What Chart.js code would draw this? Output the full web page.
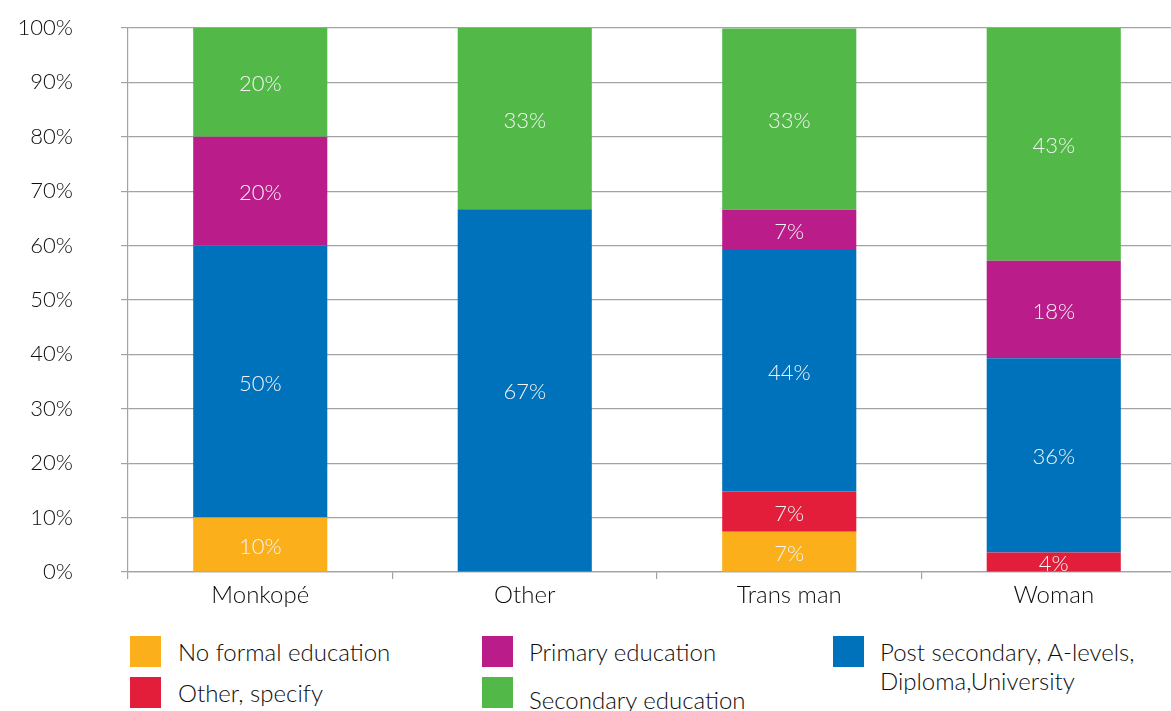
<!DOCTYPE html>
<html>
<head>
<meta charset="utf-8">
<script src="https://cdn.jsdelivr.net/npm/chart.js@4.4.1/dist/chart.umd.min.js"></script>
<style>
  html, body { margin: 0; padding: 0; background: #fff; overflow: hidden; }
  body { width: 1171px; height: 711px; position: relative; font-family: Lato, "Noto Sans", sans-serif; font-weight: 300; color: #0d0d0d; }
  #eduChart { position: absolute; left: 0; top: 0; }
  .key { position: absolute; width: 31px; height: 31px; }
  .lbl { position: absolute; font-size: 24px; line-height: 29px; white-space: nowrap; }
</style>
</head>
<body>
<canvas id="eduChart" width="1190" height="620"></canvas>

<div class="key" style="left:130px;top:636px;background:#FBAF1A"></div>
<div class="lbl" style="left:178px;top:637px">No formal education</div>
<div class="key" style="left:130px;top:677px;background:#E31E3B"></div>
<div class="lbl" style="left:178px;top:678px">Other, specify</div>

<div class="key" style="left:482px;top:636px;background:#BA1C8A"></div>
<div class="lbl" style="left:529px;top:637px">Primary education</div>
<div class="key" style="left:482px;top:677px;background:#52B848"></div>
<div class="lbl" style="left:529px;top:685px">Secondary education</div>

<div class="key" style="left:833px;top:636px;background:#0071BB"></div>
<div class="lbl" style="left:880px;top:637px">Post secondary, A-levels,<br>Diploma,University</div>

<script>
/* Highest level of education by gender identity (100% stacked) */

const CATEGORIES = ['Monkopé', 'Other', 'Trans man', 'Woman'];

// shares in percent, one entry per category
const NO_FORMAL  = [10, 0, 7.4, 0];
const OTHER_SPEC = [0, 0, 7.4, 3.6];
const POST_SEC   = [50, 66.7, 44.4, 35.7];
const PRIMARY    = [20, 0, 7.4, 17.9];
const SECONDARY  = [20, 33.3, 33.3, 42.9];

const Y_TICKS = [0, 10, 20, 30, 40, 50, 60, 70, 80, 90, 100];

const FONT = 'Lato, "Noto Sans", sans-serif';
const GRID = '#a3a3a3';
const INK = '#0d0d0d';

/* ── segment labels ─────────────────────────────────────────── */
const segmentLabels = {
  id: 'segment-labels',
  afterDatasetsDraw(chart) {
    const { ctx, chartArea } = chart;
    ctx.save();
    ctx.beginPath();
    ctx.rect(chartArea.left, chartArea.top, chartArea.right - chartArea.left, chartArea.bottom - chartArea.top);
    ctx.clip();
    ctx.fillStyle = '#f4f4f4';
    ctx.font = '300 22px ' + FONT;
    ctx.textAlign = 'center';
    ctx.textBaseline = 'middle';
    chart.data.datasets.forEach((ds, i) => {
      const meta = chart.getDatasetMeta(i);
      meta.data.forEach((bar, j) => {
        const v = ds.data[j];
        if (!v) return;
        const cy = (bar.y + bar.base) / 2 + 2;
        ctx.fillText(Math.round(v) + '%', bar.x, cy);
      });
    });
    ctx.restore();
  }
};

const series = [
  { label: 'No formal education', data: NO_FORMAL, color: '#FBAF1A' },
  { label: 'Other, specify', data: OTHER_SPEC, color: '#E31E3B' },
  { label: 'Post secondary, A-levels, Diploma,University', data: POST_SEC, color: '#0071BB' },
  { label: 'Primary education', data: PRIMARY, color: '#BA1C8A' },
  { label: 'Secondary education', data: SECONDARY, color: '#52B848' },
];

new Chart(document.getElementById('eduChart'), {
  type: 'bar',
  data: {
    labels: CATEGORIES,
    datasets: series.map(s => ({
      label: s.label,
      data: s.data,
      backgroundColor: s.color,
      borderWidth: 0,
      barPercentage: 1,
      categoryPercentage: 0.507,
    }))
  },
  options: {
    responsive: false,
    animation: false,
    layout: { padding: { top: 28, right: 4, left: 0, bottom: 0 } },
    plugins: {
      legend: { display: false },
      tooltip: { enabled: false }
    },
    scales: {
      x: {
        stacked: true,
        grid: { drawOnChartArea: false, color: GRID, tickLength: 7, lineWidth: 1.2 },
        border: { display: true, color: GRID, width: 1.2 },
        ticks: { font: { size: 24, family: FONT, weight: 300 }, color: INK, padding: 2 },
        afterFit: s => { s.height = 48; }
      },
      y: {
        stacked: true,
        min: 0,
        max: 100,
        afterBuildTicks: s => { s.ticks = Y_TICKS.map(v => ({ value: v })); },
        grid: { color: GRID, tickLength: 7, lineWidth: 1.2 },
        border: { display: true, color: GRID, width: 1.2 },
        ticks: {
          font: { size: 22, family: FONT, weight: 300 },
          color: INK,
          padding: 48,
          callback: v => v + '%'
        },
        // the wide label gap would otherwise be added above and below the axis
        afterFit: s => { s.width = 128; s.paddingTop = 0; s.paddingBottom = 0; }
      }
    }
  },
  plugins: [segmentLabels]
});
</script>
</body>
</html>
